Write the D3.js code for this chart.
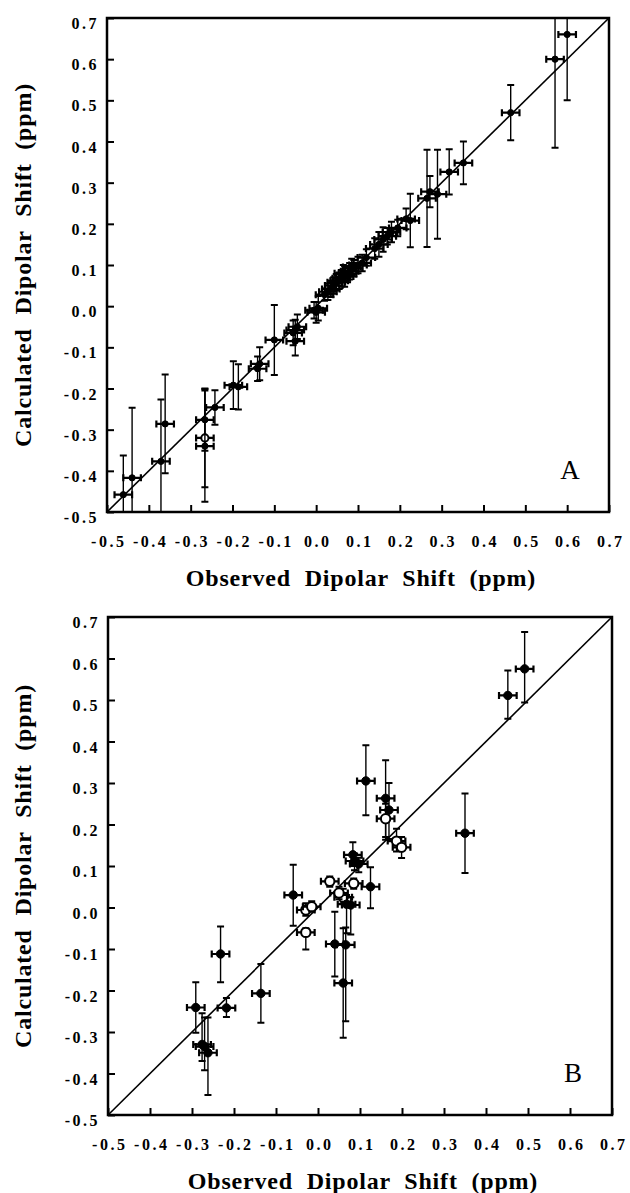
<!DOCTYPE html>
<html>
<head>
<meta charset="utf-8">
<script src="https://cdn.jsdelivr.net/npm/d3@7"></script>
<style>
  body { margin: 0; background: #fff; }
  svg { display: block; }
</style>
</head>
<body>
<div id="chart"></div>
<script>
// axis ticks (both panels use the same range on x and y)
const majorTicks = [-0.5, -0.4, -0.3, -0.2, -0.1, 0.0, 0.1, 0.2, 0.3, 0.4, 0.5, 0.6, 0.7];
const minorTicks = [-0.45, -0.35, -0.25, -0.15, -0.05, 0.05, 0.15, 0.25, 0.35, 0.45, 0.55, 0.65];
const tickLabels = ["-0.5", "-0.4", "-0.3", "-0.2", "-0.1", "0.0", "0.1", "0.2", "0.3", "0.4", "0.5", "0.6", "0.7"];

// panel A: observed vs calculated, symmetric y error
const obsA  = [0.600, 0.571, 0.465, 0.352, 0.318, 0.290, 0.265, 0.272, 0.225, 0.215, 0.195, 0.180, 0.170,
               0.160, 0.150, 0.140, 0.120, 0.110, 0.100, 0.090, 0.080, 0.075, 0.068, 0.060, 0.055, 0.048,
               0.042, 0.035, 0.028, 0.020, 0.065, 0.085, 0.005, 0.000, -0.005, -0.045, -0.050, -0.055,
               -0.050, -0.100, -0.135, -0.140, -0.198, -0.186, -0.242, -0.266, -0.266, -0.266, -0.361,
               -0.371, -0.440, -0.461];
const calcA = [0.660, 0.600, 0.470, 0.348, 0.326, 0.272, 0.262, 0.278, 0.208, 0.212, 0.190, 0.180, 0.170,
               0.162, 0.150, 0.140, 0.118, 0.105, 0.100, 0.092, 0.085, 0.078, 0.072, 0.068, 0.062, 0.058,
               0.050, 0.042, 0.035, 0.028, 0.080, 0.095, -0.005, -0.015, -0.010, -0.050, -0.058, -0.065,
               -0.085, -0.082, -0.140, -0.152, -0.192, -0.196, -0.246, -0.276, -0.320, -0.340, -0.286,
               -0.377, -0.417, -0.458];
const errA  = [0.160, 0.215, 0.067, 0.052, 0.055, 0.108, 0.118, 0.038, 0.065, 0.025, 0.020, 0.025, 0.020,
               0.030, 0.030, 0.025, 0.020, 0.020, 0.020, 0.020, 0.020, 0.020, 0.025, 0.020, 0.020, 0.020,
               0.020, 0.020, 0.020, 0.015, 0.020, 0.020, 0.030, 0.025, 0.020, 0.030, 0.025, 0.030,
               0.035, 0.085, 0.040, 0.030, 0.058, 0.055, 0.042, 0.075, 0.120, 0.135, 0.120,
               0.150, 0.170, 0.095];
const openA = [47];

// panel B: observed vs calculated, y error given as low / high ends
const obsB  = [0.492, 0.452, 0.350, 0.114, 0.161, 0.169, 0.161, 0.187, 0.199, 0.083, 0.087, 0.097,
               0.028, 0.085, 0.125, -0.059, -0.029, -0.015, -0.029, 0.060, 0.050, 0.068, 0.078,
               0.040, 0.066, 0.060, -0.232, -0.136, -0.291, -0.218, -0.276, -0.270, -0.262];
const calcB = [0.575, 0.511, 0.179, 0.305, 0.263, 0.235, 0.214, 0.160, 0.145, 0.127, 0.112, 0.105,
               0.063, 0.058, 0.050, 0.030, -0.006, 0.002, -0.060, 0.025, 0.035, 0.008, 0.006,
               -0.088, -0.090, -0.182, -0.112, -0.207, -0.241, -0.242, -0.330, -0.335, -0.350];
const lowB  = [0.494, 0.455, 0.083, 0.222, 0.170, 0.165, 0.163, 0.135, 0.119, 0.100, 0.090, 0.085,
               0.050, 0.045, -0.002, -0.044, -0.020, -0.010, -0.101, 0.010, 0.020, -0.062, -0.065,
               -0.166, -0.274, -0.314, -0.180, -0.278, -0.302, -0.264, -0.370, -0.392, -0.452];
const highB = [0.664, 0.571, 0.275, 0.391, 0.355, 0.300, 0.250, 0.190, 0.170, 0.157, 0.130, 0.120,
               0.075, 0.070, 0.097, 0.103, 0.010, 0.015, -0.050, 0.045, 0.050, 0.030, 0.025,
               -0.010, -0.048, -0.050, -0.046, -0.136, -0.180, -0.218, -0.255, -0.265, -0.265];
const openB = [7, 8, 9, 13, 14, 17, 18, 19, 20, 21];

const xErr = 0.021;

const pointsA = obsA.map((d, i) => ({
  obs: d, calc: calcA[i], lo: calcA[i] - errA[i], hi: calcA[i] + errA[i], open: openA.includes(i + 1),
}));
const pointsB = obsB.map((d, i) => ({
  obs: d, calc: calcB[i], lo: lowB[i], hi: highB[i], open: openB.includes(i + 1),
}));

const serif = "'Liberation Serif', 'Times New Roman', 'DejaVu Serif', serif";

const svg = d3.select("#chart")
  .append("svg")
  .attr("width", 630)
  .attr("height", 1193);

const drawPanel = (id, points, box, letter, markR) => {
  const x = d3.scaleLinear().domain([-0.5, 0.7]).range([box.left, box.right]);
  const y = d3.scaleLinear().domain([-0.5, 0.7]).range([box.bottom, box.top]);

  const g = svg.append("g").attr("class", "panel-" + id);

  g.append("clipPath")
    .attr("id", "clip-" + id)
    .append("rect")
    .attr("x", box.left)
    .attr("y", box.top)
    .attr("width", box.right - box.left)
    .attr("height", box.bottom - box.top);

  // bottom axis, ticks pointing inward
  const bottom = g.append("g").attr("transform", `translate(0,${box.bottom})`);
  bottom.call(d3.axisBottom(x).tickValues(minorTicks).tickSize(-4).tickFormat(""));
  bottom.call(d3.axisBottom(x).tickValues(majorTicks).tickSize(-7).tickPadding(24)
    .tickFormat((d, i) => tickLabels[i]));

  const left = g.append("g").attr("transform", `translate(${box.left},0)`);
  left.call(d3.axisLeft(y).tickValues(minorTicks).tickSize(-4).tickFormat(""));
  left.call(d3.axisLeft(y).tickValues(majorTicks).tickSize(-7).tickPadding(8)
    .tickFormat((d, i) => tickLabels[i]));

  g.selectAll(".domain").remove();
  g.selectAll(".tick line").attr("stroke", "#000").attr("stroke-width", 2);
  g.selectAll(".tick text")
    .attr("fill", "#000")
    .style("font-family", serif)
    .style("font-weight", "bold")
    .style("font-size", "16px")
    .style("letter-spacing", "2.5px");
  bottom.selectAll(".tick text").attr("dx", "1.2px");
  left.selectAll(".tick text").attr("dy", "0.66em");

  // frame
  g.append("rect")
    .attr("x", box.left)
    .attr("y", box.top)
    .attr("width", box.right - box.left)
    .attr("height", box.bottom - box.top)
    .attr("fill", "none")
    .attr("stroke", "#000")
    .attr("stroke-width", 2.5);

  const plot = g.append("g").attr("clip-path", `url(#clip-${id})`);

  // y = x line
  plot.append("line")
    .attr("x1", x(-0.5)).attr("y1", y(-0.5))
    .attr("x2", x(0.7)).attr("y2", y(0.7))
    .attr("stroke", "#000")
    .attr("stroke-width", 1.6);

  const cap = 3.5;
  const pts = plot.selectAll(".pt")
    .data(points)
    .enter()
    .append("g")
    .attr("class", "pt")
    .attr("stroke", "#000");

  // vertical error bar
  pts.append("line")
    .attr("x1", (d) => x(d.obs)).attr("x2", (d) => x(d.obs))
    .attr("y1", (d) => y(d.lo)).attr("y2", (d) => y(d.hi))
    .attr("stroke-width", 1.4);
  pts.append("path")
    .attr("d", (d) => `M${x(d.obs) - cap},${y(d.lo)}H${x(d.obs) + cap}M${x(d.obs) - cap},${y(d.hi)}H${x(d.obs) + cap}`)
    .attr("stroke-width", 2);

  // horizontal error bar
  pts.append("path")
    .attr("d", (d) => {
      const x0 = x(d.obs - xErr), x1 = x(d.obs + xErr), yy = y(d.calc);
      return `M${x0},${yy}H${x1}M${x0},${yy - cap}V${yy + cap}M${x1},${yy - cap}V${yy + cap}`;
    })
    .attr("fill", "none")
    .attr("stroke-width", 2.2);

  pts.append("circle")
    .attr("cx", (d) => x(d.obs))
    .attr("cy", (d) => y(d.calc))
    .attr("r", (d) => (d.open ? markR + 0.5 : markR))
    .attr("fill", (d) => (d.open ? "#fff" : "#000"))
    .attr("stroke-width", (d) => (d.open ? 2 : 1));

  // panel letter
  g.append("text")
    .attr("x", box.right - 39)
    .attr("y", box.bottom - 33)
    .attr("text-anchor", "middle")
    .style("font-family", serif)
    .style("font-size", "27px")
    .text(letter);

  // axis titles
  g.append("text")
    .attr("x", (box.left + box.right) / 2 + 3)
    .attr("y", box.bottom + 74)
    .attr("text-anchor", "middle")
    .style("font-family", serif)
    .style("font-weight", "bold")
    .style("font-size", "24px")
    .style("letter-spacing", "0.8px")
    .style("word-spacing", "7px")
    .text("Observed Dipolar Shift (ppm)");

  g.append("text")
    .attr("transform", `translate(31,${(box.top + box.bottom) / 2}) rotate(-90)`)
    .attr("text-anchor", "middle")
    .style("font-family", serif)
    .style("font-weight", "bold")
    .style("font-size", "24px")
    .style("letter-spacing", "0.8px")
    .style("word-spacing", "7px")
    .text("Calculated Dipolar Shift (ppm)");
};

drawPanel("A", pointsA, { left: 107, right: 609, top: 18, bottom: 512 }, "A", 3.1);
drawPanel("B", pointsB, { left: 108, right: 612, top: 617, bottom: 1115 }, "B", 4.2);
</script>
</body>
</html>
